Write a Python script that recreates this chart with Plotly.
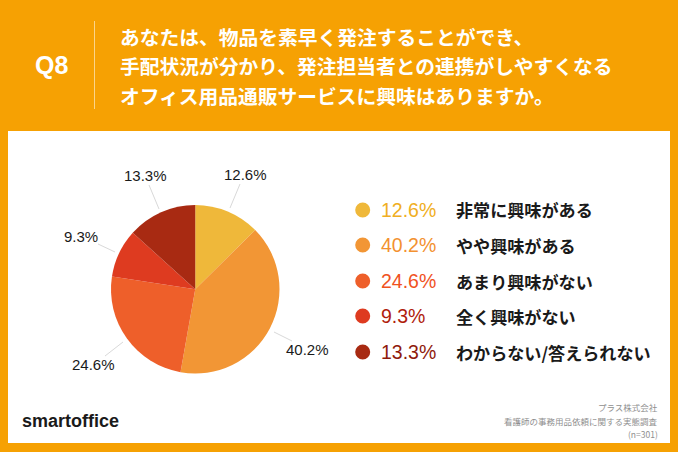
import plotly.graph_objects as go

categories = ["非常に興味がある", "やや興味がある", "あまり興味がない", "全く興味がない", "わからない/答えられない"]
values = [12.6, 40.2, 24.6, 9.3, 13.3]
slice_colors = ["#EFB83A", "#F29635", "#EE5F2A", "#DE3B20", "#A82A12"]
pct_colors = ["#F0AE22", "#F39130", "#F0521E", "#B01C0C", "#8F1A0C"]
question_lines = ["あなたは、物品を素早く発注することができ、",
                  "手配状況が分かり、発注担当者との連携がしやすくなる",
                  "オフィス用品通販サービスに興味はありますか。"]
source_lines = ["プラス株式会社", "看護師の事務用品依頼に関する実態調査", "(n=301)"]

W, H = 678, 452
CJK = "Noto Sans CJK JP"
ORANGE = "#F6A103"

def px(x): return x / W
def py(y): return 1 - y / H

shapes, ann = [], []

def text(x, y, s, size, color, anchor="left", font=CJK, bold=False):
    ann.append(dict(x=px(x), y=py(y), xref="paper", yref="paper", text=f"<b>{s}</b>" if bold else s,
                    showarrow=False, xanchor=anchor, yanchor="middle",
                    font=dict(size=size, color=color, family=font)))

def line(x0, y0, x1, y1, color, width):
    shapes.append(dict(type="line", xref="paper", yref="paper", x0=px(x0), y0=py(y0), x1=px(x1), y1=py(y1),
                       line=dict(color=color, width=width)))

# white panel
shapes.append(dict(type="rect", xref="paper", yref="paper", x0=px(8), x1=px(670), y0=py(443), y1=py(131),
                   fillcolor="#FFFFFF", line=dict(width=0), layer="below"))
# header
line(94.5, 21, 94.5, 109, "#FBD48A", 1)
text(51.5, 65, "Q8", 25, "#FFFFFF", "center", "Liberation Sans", True)
for s, y in zip(question_lines, [36, 65.5, 95]):
    text(118, y, s, 19.75, "#FFFFFF", bold=True)

# pie leader lines + value labels
leaders = [(240, 184, 230, 208), (274, 332, 292, 341), (123, 342, 105, 356), (115, 252, 98, 244), (159, 209, 149, 185)]
label_pos = [(245, 174), (307, 349), (93, 364), (81, 236), (145, 175)]
for v, (x0, y0, x1, y1), (lx, ly) in zip(values, leaders, label_pos):
    line(x0, y0, x1, y1, "#D9D9D9", 1)
    text(lx, ly, f"{v}%", 15, "#1A1A1A", "center", "Liberation Sans")

# legend
for cat, v, sc, pc, y in zip(categories, values, slice_colors, pct_colors, [210, 245, 281, 316, 352]):
    shapes.append(dict(type="circle", xref="paper", yref="paper", x0=px(355.2), x1=px(370.2),
                       y0=py(y + 7.5), y1=py(y - 7.5), fillcolor=sc, line=dict(width=0)))
    text(378.5, y, f"{v}%", 19.5, pc, font="Liberation Sans")
    text(454, y, cat, 17.1, "#1A1A1A", bold=True)

# logo
text(19.5, 421, "smartoffice", 18, "#1A1A1A", font="Liberation Sans", bold=True)

# source
for s, y in zip(source_lines, [407, 421, 434]):
    text(659.5, y, s, 8.5, "#8F8F8F", "right")

fig = go.Figure(go.Pie(
    labels=categories, values=values, sort=False, direction="clockwise", rotation=0,
    marker=dict(colors=slice_colors, line=dict(width=0)),
    textinfo="none", hoverinfo="label+percent", showlegend=False,
    domain=dict(x=[px(111), px(279.5)], y=[py(373.5), py(205)]),
))
fig.update_layout(width=W, height=H, margin=dict(l=0, r=0, t=0, b=0), paper_bgcolor=ORANGE,
                  shapes=shapes, annotations=ann)
fig.write_html("out.html", config=dict(displayModeBar=False),
               post_script="document.body.style.margin='0';document.body.style.overflow='hidden';")
